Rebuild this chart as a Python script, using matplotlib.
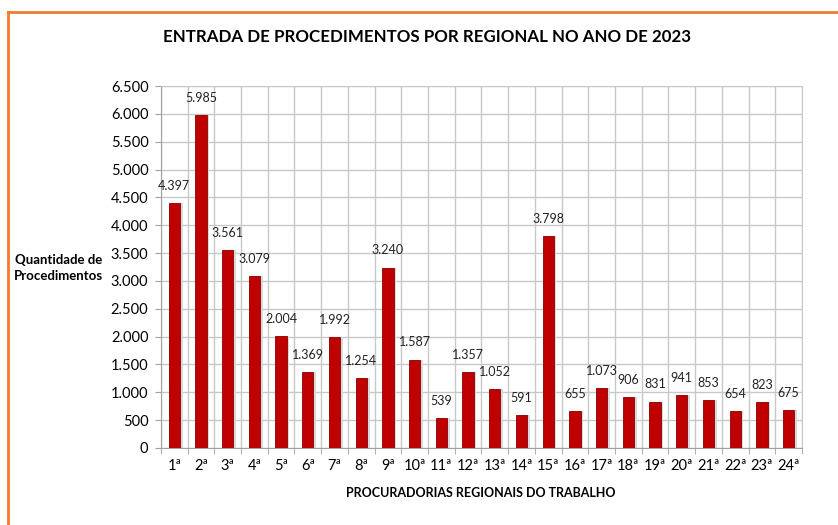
import matplotlib
matplotlib.use('Agg')
import matplotlib.pyplot as plt
import numpy as np
from matplotlib.ticker import FuncFormatter
from matplotlib.lines import Line2D

plt.rcParams['font.family'] = ['Lato', 'DejaVu Sans']

# data
regionais = ['1ª', '2ª', '3ª', '4ª', '5ª', '6ª', '7ª', '8ª', '9ª', '10ª', '11ª', '12ª',
             '13ª', '14ª', '15ª', '16ª', '17ª', '18ª', '19ª', '20ª', '21ª', '22ª', '23ª', '24ª']
procedimentos = [4397, 5985, 3561, 3079, 2004, 1369, 1992, 1254, 3240, 1587, 539, 1357,
                 1052, 591, 3798, 655, 1073, 906, 831, 941, 853, 654, 823, 675]


def milhar(v, pos=None):
    return '{:,.0f}'.format(v).replace(',', '.')


fig = plt.figure(figsize=(8.38, 5.25), dpi=100)
ax = fig.add_axes([0.192, 0.147, 0.765, 0.689])

x = np.arange(len(regionais))
# soft shadow behind bars
ax.bar(x + 0.1, procedimentos, width=0.42, color='#d9d9d9', zorder=2)
ax.bar(x, procedimentos, width=0.42, color='#c00000', edgecolor='#8b0000', linewidth=0.6, zorder=3)

for xi, v in zip(x, procedimentos):
    ax.annotate(milhar(v), (xi, v), xytext=(0, 8), textcoords='offset points',
                ha='center', va='bottom', fontsize=9, color='#222222')

ax.set_xlim(-0.5, len(regionais) - 0.5)
ax.set_ylim(0, 6500)
ax.set_yticks(np.arange(0, 6501, 500))
ax.yaxis.set_major_formatter(FuncFormatter(milhar))
ax.set_xticks(x)
ax.set_xticklabels(regionais)
ax.set_xticks(np.arange(-0.5, len(regionais), 1), minor=True)
ax.tick_params(axis='x', which='major', length=0, labelsize=10.5, pad=8)
ax.tick_params(axis='x', which='minor', length=4, color='#a0a0a0')
ax.tick_params(axis='y', length=4, color='#a0a0a0', labelsize=10.5, pad=5)

ax.grid(True, axis='y', which='major', color='#c8c8c8', linewidth=1, zorder=0)
ax.grid(True, axis='x', which='minor', color='#c8c8c8', linewidth=1, zorder=0)
for s in ax.spines.values():
    s.set_color('#c8c8c8')
ax.spines['left'].set_color('#a0a0a0')
ax.spines['bottom'].set_color('#a0a0a0')
ax.set_axisbelow(True)

fig.text(0.51, 0.929, 'ENTRADA DE PROCEDIMENTOS POR REGIONAL NO ANO DE 2023',
         ha='center', va='center', fontsize=12.2, fontweight='bold')
fig.text(0.574, 0.061, 'PROCURADORIAS REGIONAIS DO TRABALHO',
         ha='center', va='center', fontsize=9, fontweight='bold')
fig.text(0.017, 0.49, 'Quantidade de\nProcedimentos', ha='left', va='center',
         fontsize=9.5, fontweight='bold', multialignment='center', linespacing=1.4)

# orange frame
fig.add_artist(Line2D([0.0095, 0.0095], [0.0, 0.977], color='#ed7d31', linewidth=2))
fig.add_artist(Line2D([0.0095, 1.0], [0.977, 0.977], color='#ed7d31', linewidth=2))

fig.savefig('out.png', dpi=100)
